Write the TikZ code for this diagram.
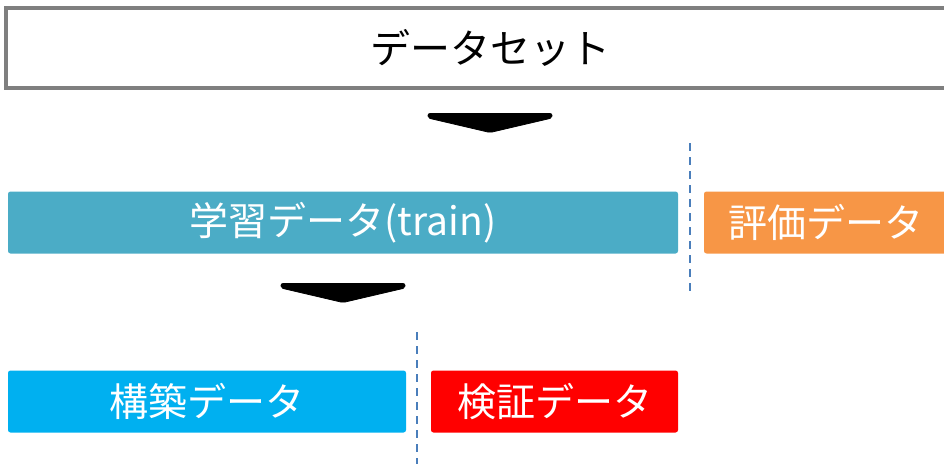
\documentclass[tikz,border=0pt]{standalone}
\usepackage{fontspec}
\setmainfont{Noto Sans CJK JP}
\definecolor{grayborder}{HTML}{7F7F7F}
\definecolor{trainblue}{HTML}{4BACC6}
\definecolor{evalorange}{HTML}{F79646}
\definecolor{buildcyan}{HTML}{00B0F0}
\definecolor{validred}{HTML}{FF0000}
\definecolor{dashblue}{HTML}{4A7EBB}
\begin{document}
\begin{tikzpicture}[x=1pt,y=-1pt,
  databox/.style={rounded corners=2.5pt, draw=none, text=white, font=\fontsize{39}{39}\selectfont, inner sep=0pt, minimum height=62pt, anchor=center},
  chevron/.style={fill=black, draw=black, line width=0.8pt, rounded corners=2pt},
  divider/.style={draw=dashblue, line width=2.4pt, dash pattern=on 8pt off 6pt}]
\useasboundingbox (0,0) rectangle (944,463);
\clip (0,0) rectangle (944,463);
% top box
\node[draw=grayborder, line width=4pt, fill=white, minimum width=968pt, minimum height=80pt, inner sep=0pt, font=\fontsize{40}{40}\selectfont] (dataset) at (490,48) {データセット};
% first chevron
\draw[chevron] (428,113.5) -- (552,113.5) -- (552,118) -- (490,132.5) -- (428,118) -- cycle;
% train and eval
\node[databox, fill=trainblue, minimum width=670pt] (train) at (343,222.5) {学習データ(train)};
\node[databox, fill=evalorange, minimum width=244pt] (eval) at (826,222.5) {評価データ};
\coordinate (d1top) at (690,143);
\coordinate (d1bot) at (690,291);
\draw[divider] (d1top) -- (d1bot);
% second chevron
\draw[chevron] (281,283.5) -- (405,283.5) -- (405,288) -- (343,302.5) -- (281,288) -- cycle;
% build and validation
\node[databox, fill=buildcyan, minimum width=398pt] (build) at (207,401.5) {構築データ};
\node[databox, fill=validred, minimum width=247pt] (valid) at (554.5,401.5) {検証データ};
\coordinate (d2top) at (417,332);
\coordinate (d2bot) at (417,465);
\draw[divider] (d2top) -- (d2bot);
\end{tikzpicture}
\end{document}
